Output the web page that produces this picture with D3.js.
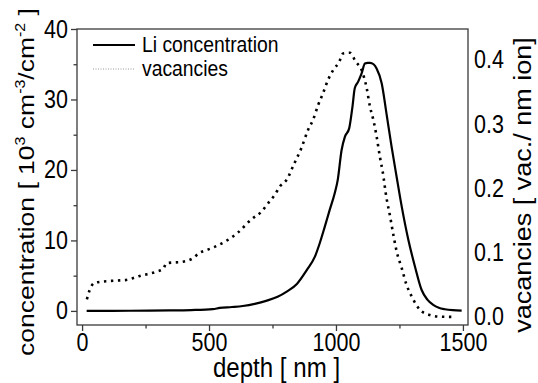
<!DOCTYPE html>
<html>
<head>
<meta charset="utf-8">
<script src="https://cdn.jsdelivr.net/npm/d3@7"></script>
<style>
  body { margin: 0; background: #fff; }
  svg { display: block; }
  text { font-family: "Liberation Sans", Arial, sans-serif; fill: #000; }
</style>
</head>
<body>
<div id="chart"></div>
<script>
// Li concentration [10^3 cm^-3 / cm^-2] vs depth [nm] (left axis)
const liDepth = [18, 100, 187, 265, 345, 430, 515, 542, 590, 633, 680, 728, 770, 806, 846, 885, 917, 936, 956, 975, 995, 1007,
  1022, 1035, 1052, 1065, 1074, 1087, 1101, 1114, 1125, 1134, 1148, 1160, 1180, 1199, 1219, 1239, 1259, 1285, 1311, 1337,
  1360, 1383, 1405, 1429, 1460, 1495];
const liConc = [0, 0, 0.02, 0.05, 0.07, 0.12, 0.25, 0.42, 0.55, 0.7, 1.0, 1.46, 2.0, 2.74, 3.83, 5.8, 7.7, 9.6, 11.96, 14.3, 16.7, 18.6,
  22.8, 24.7, 25.9, 29.0, 31.6, 32.5, 33.7, 35.1, 35.2, 35.2, 35.0, 34.4, 32.3, 28.0, 23.3, 19.0, 14.8, 10.1, 6.3, 3.0,
  1.6, 0.85, 0.45, 0.24, 0.1, 0.04];

// vacancies [vac./nm ion] vs depth [nm] (right axis)
const vacDepth = [19, 30, 49, 108, 174, 227, 293, 320, 332, 397, 437, 463, 490, 522, 562, 613, 667, 707, 733, 759, 779, 805,
  835, 864, 890, 910, 930, 949, 969, 989, 1013, 1028, 1055, 1078, 1101, 1121, 1134, 1147, 1160, 1173, 1184, 1199, 1212,
  1225, 1239, 1259, 1278, 1298, 1331, 1370, 1410, 1469];
const vacVal = [0.0275, 0.042, 0.053, 0.056, 0.0576, 0.0638, 0.0705, 0.075, 0.0836, 0.086, 0.0914, 0.100, 0.104, 0.109, 0.117,
  0.131, 0.152, 0.164, 0.177, 0.190, 0.203, 0.213, 0.238, 0.263, 0.291, 0.307, 0.330, 0.348, 0.369, 0.384, 0.397, 0.410,
  0.411, 0.397, 0.384, 0.356, 0.327, 0.307, 0.281, 0.249, 0.226, 0.185, 0.159, 0.130, 0.102, 0.076, 0.050, 0.032, 0.011,
  0.003, 0.0005, 0.0];

const xTicks = [0, 500, 1000, 1500];
const xMinor = [250, 750, 1250];
const yLeftTicks = [0, 10, 20, 30, 40];
const yLeftMinor = [5, 15, 25, 35];
const yRightTicks = [0.0, 0.1, 0.2, 0.3, 0.4];
const seriesNames = ['Li concentration', 'vacancies'];

const config = {
  width: 538,
  height: 383,
  margin: { top: 29, right: 70, bottom: 58, left: 77 },
  axisColor: '#3a3a3a',
  tickFont: 25,
  squeeze: 0.86 // glyphs in the picture are narrower than they are tall
};

const boundedWidth = config.width - config.margin.left - config.margin.right;
const boundedHeight = config.height - config.margin.top - config.margin.bottom;

const xScale = d3.scaleLinear().domain([-20, 1520]).range([0, boundedWidth]);
const yLeft = d3.scaleLinear().domain([-2, 40]).range([boundedHeight, 0]);
const yRight = d3.scaleLinear().domain([-0.0125, 0.448]).range([boundedHeight, 0]);

const svg = d3.select('#chart')
  .append('svg')
  .attr('width', config.width)
  .attr('height', config.height);

const viz = svg.append('g')
  .attr('transform', `translate(${config.margin.left},${config.margin.top})`);

// frame
viz.append('rect')
  .attr('x', 0).attr('y', 0)
  .attr('width', boundedWidth).attr('height', boundedHeight)
  .attr('fill', 'none')
  .attr('stroke', config.axisColor)
  .attr('stroke-width', 1.3);

function styleAxis(g) {
  g.select('.domain').remove();
  g.selectAll('line').attr('stroke', config.axisColor).attr('stroke-width', 1.3);
  g.selectAll('text').attr('font-size', config.tickFont);
}

// bottom axis
viz.append('g')
  .attr('transform', `translate(0,${boundedHeight})`)
  .call(d3.axisBottom(xScale).tickValues(xTicks).tickSize(6).tickPadding(2).tickFormat(d3.format('d')))
  .call(styleAxis);
viz.append('g')
  .attr('transform', `translate(0,${boundedHeight})`)
  .call(d3.axisBottom(xScale).tickValues(xMinor).tickSize(3.5).tickFormat(''))
  .call(styleAxis);

// left axis
viz.append('g')
  .call(d3.axisLeft(yLeft).tickValues(yLeftTicks).tickSize(6).tickPadding(3).tickFormat(d3.format('d')))
  .call(styleAxis);
viz.append('g')
  .call(d3.axisLeft(yLeft).tickValues(yLeftMinor).tickSize(3.5).tickFormat(''))
  .call(styleAxis);

// right axis (labels only)
viz.append('g')
  .attr('transform', `translate(${boundedWidth},0)`)
  .call(d3.axisRight(yRight).tickValues(yRightTicks).tickSize(0).tickPadding(6).tickFormat(d3.format('.1f')))
  .call(styleAxis);

// squeeze tick labels horizontally around their anchor
viz.selectAll('.tick text').each(function () {
  const t = d3.select(this);
  const x = +t.attr('x') || 0;
  t.attr('transform', `translate(${x},0) scale(${config.squeeze},1) translate(${-x},0)`);
});

// lines
const liLine = d3.line()
  .x((d, i) => xScale(liDepth[i]))
  .y(d => yLeft(d))
  .curve(d3.curveMonotoneX);
const vacLine = d3.line()
  .x((d, i) => xScale(vacDepth[i]))
  .y(d => yRight(d))
  .curve(d3.curveMonotoneX);

viz.append('path')
  .datum(vacVal)
  .attr('d', vacLine)
  .attr('fill', 'none')
  .attr('stroke', '#000')
  .attr('stroke-width', 2.6)
  .attr('stroke-dasharray', '2.4,4.6');

viz.append('path')
  .datum(liConc)
  .attr('d', liLine)
  .attr('fill', 'none')
  .attr('stroke', '#000')
  .attr('stroke-width', 2.2);

// legend
const legend = svg.append('g').attr('transform', 'translate(93,0)');
legend.append('line')
  .attr('x1', 0).attr('x2', 42).attr('y1', 45).attr('y2', 45)
  .attr('stroke', '#000').attr('stroke-width', 2.2);
legend.append('line')
  .attr('x1', 0).attr('x2', 42).attr('y1', 69).attr('y2', 69)
  .attr('stroke', '#999').attr('stroke-width', 1)
  .attr('stroke-dasharray', '1,1.5');
legend.selectAll('text.leg')
  .data(seriesNames)
  .join('text')
  .attr('class', 'leg')
  .attr('font-size', 22.5)
  .attr('transform', (d, i) => `translate(49,${52 + i * 24}) scale(${config.squeeze},1)`)
  .text(d => d);

// axis titles
svg.append('text')
  .attr('font-size', 28)
  .attr('text-anchor', 'middle')
  .attr('transform', `translate(${config.margin.left + boundedWidth / 2 + 4},377) scale(${config.squeeze},1)`)
  .text('depth [ nm ]');

const yTitle = svg.append('text')
  .attr('font-size', 26.5)
  .attr('text-anchor', 'middle')
  .attr('transform', `translate(34,182) rotate(-90) scale(1,${config.squeeze})`);
yTitle.append('tspan').text('concentration [ 10');
yTitle.append('tspan').attr('font-size', 16).attr('dy', -10).text('3');
yTitle.append('tspan').attr('dy', 10).text(' cm');
yTitle.append('tspan').attr('font-size', 16).attr('dy', -10).text('-3');
yTitle.append('tspan').attr('dy', 10).text('/cm');
yTitle.append('tspan').attr('font-size', 16).attr('dy', -10).text('-2');
yTitle.append('tspan').attr('dy', 10).text(' ]');

svg.append('text')
  .attr('font-size', 27)
  .attr('text-anchor', 'middle')
  .attr('transform', `translate(531,185) rotate(-90) scale(1,${config.squeeze})`)
  .text('vacancies [ vac./ nm ion]');
</script>
</body>
</html>
